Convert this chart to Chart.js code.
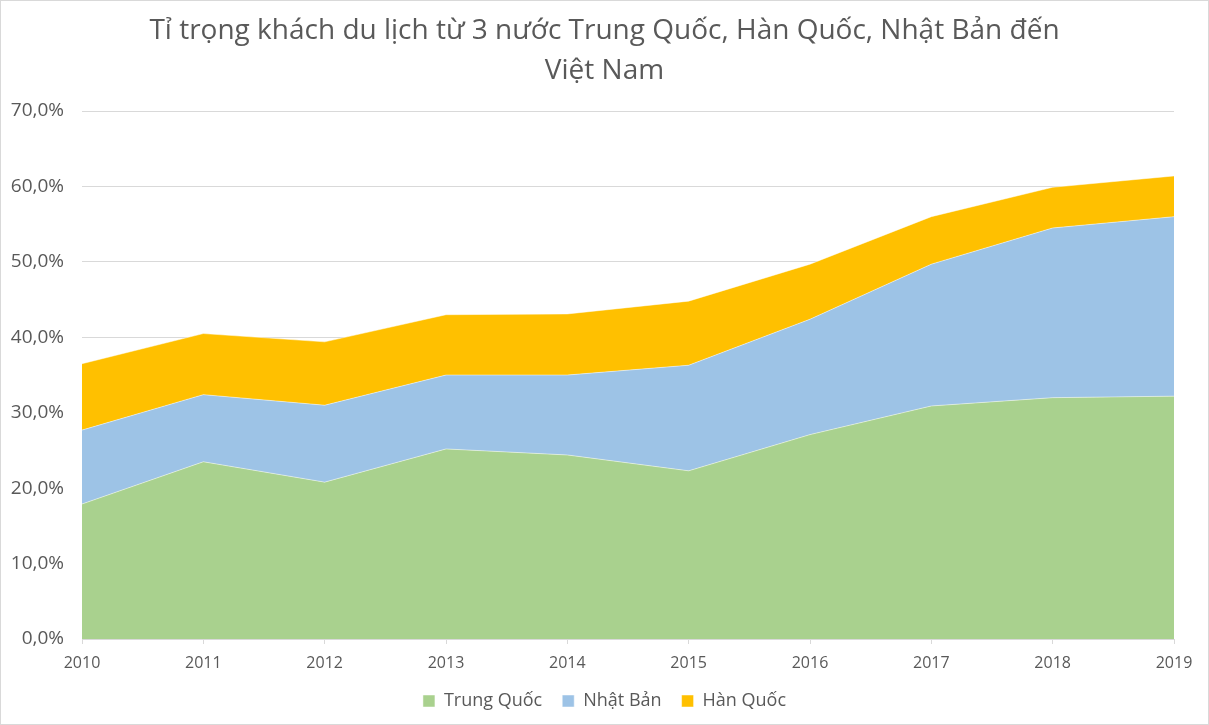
<!DOCTYPE html>
<html>
<head>
<meta charset="utf-8">
<script src="https://cdn.jsdelivr.net/npm/chart.js@4"></script>
<style>
    html, body { margin: 0; padding: 0; background: #fff; }
    #wrap { position: relative; width: 1209px; height: 725px; box-sizing: border-box; border: 1px solid #d9d9d9; }
</style>
</head>
<body>
<div id="wrap"><canvas id="chart"></canvas></div>
<script>
const years = ['2010', '2011', '2012', '2013', '2014', '2015', '2016', '2017', '2018', '2019'];
const trungQuoc = [17.9, 23.5, 20.8, 25.2, 24.4, 22.3, 27.1, 30.9, 32.0, 32.2];
const nhatBan = [9.8, 8.9, 10.2, 9.8, 10.6, 14.0, 15.3, 18.8, 22.5, 23.8];
const hanQuoc = [8.8, 8.1, 8.4, 8.0, 8.1, 8.5, 7.3, 6.3, 5.4, 5.4];
const titleLines = ['Tỉ trọng khách du lịch từ 3 nước Trung Quốc, Hàn Quốc, Nhật Bản đến', 'Việt Nam'];

const textColor = '#595959';
const gridColor = '#d9d9d9';
const fontFamily = "'Open Sans', 'Liberation Sans', sans-serif";

function areaSet(label, data, color, fill) {
    return {
        label: label,
        data: data,
        backgroundColor: color,
        borderColor: 'rgba(255,255,255,0.6)',
        borderWidth: 0.8,
        fill: fill,
        pointRadius: 0,
        tension: 0
    };
}

const ctx = document.getElementById('chart').getContext('2d');
new Chart(ctx, {
    type: 'line',
    data: {
        labels: years,
        datasets: [
            areaSet('Trung Quốc', trungQuoc, '#a9d18e', 'origin'),
            areaSet('Nhật Bản', nhatBan, '#9dc3e6', '-1'),
            areaSet('Hàn Quốc', hanQuoc, '#ffc000', '-1')
        ]
    },
    options: {
        responsive: true,
        maintainAspectRatio: false,
        animation: false,
        layout: { padding: { left: 0, right: 0, top: 8, bottom: 4 } },
        scales: {
            x: {
                offset: false,
                grid: { drawOnChartArea: false, drawTicks: true, tickLength: 5, color: gridColor },
                border: { display: true, color: gridColor },
                afterFit: (scale) => { scale.paddingRight = 34; scale.height = 33; },
                ticks: { color: textColor, font: { family: fontFamily, size: 16 }, maxRotation: 0, padding: 10 }
            },
            y: {
                stacked: true,
                min: 0,
                max: 70,
                grid: { color: gridColor, drawTicks: false },
                border: { display: false },
                afterFit: (scale) => { scale.width = 81; },
                ticks: {
                    stepSize: 10,
                    color: textColor,
                    padding: 18,
                    font: { family: fontFamily, size: 19 },
                    callback: (v) => v.toFixed(1).replace('.', ',') + '%'
                }
            }
        },
        plugins: {
            title: {
                display: true,
                text: titleLines,
                color: textColor,
                font: { family: fontFamily, size: 28, weight: 'normal', lineHeight: 1.43 },
                padding: { top: 2, bottom: 20 }
            },
            legend: {
                position: 'bottom',
                labels: {
                    color: textColor,
                    boxWidth: 12,
                    boxHeight: 12,
                    padding: 20,
                    font: { family: fontFamily, size: 18 }
                }
            },
            tooltip: { enabled: false }
        }
    }
});
</script>
</body>
</html>
